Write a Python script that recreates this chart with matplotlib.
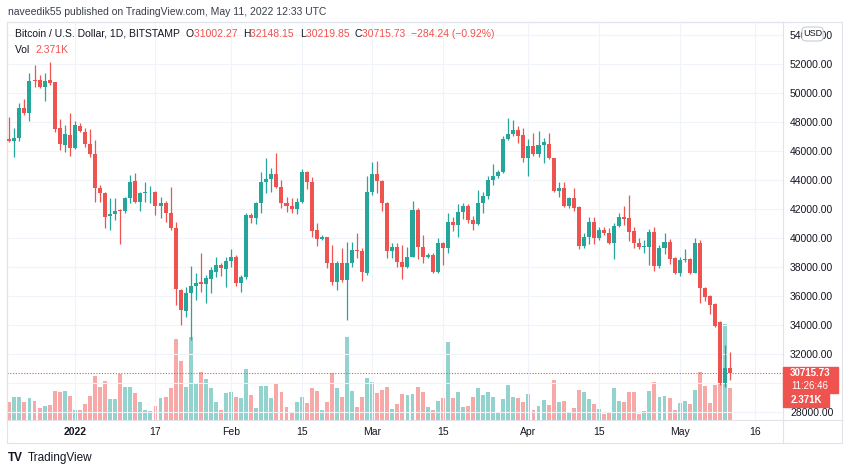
import numpy as np
import pandas as pd
import matplotlib
matplotlib.use("Agg")
import matplotlib.pyplot as plt
import matplotlib.dates as mdates
from matplotlib.patches import Rectangle, FancyBboxPatch
from matplotlib.lines import Line2D

plt.rcParams['font.family'] = ['Liberation Sans', 'DejaVu Sans']

# daily BTC/USD candles, 2021-12-19 .. 2022-05-11
start = "2021-12-19"
opens = [
    46850, 46680, 46900, 48950, 48640, 50900, 50900, 50400, 50900, 50740, 47600, 46410, 47100,
    46210, 47720, 47330, 46460, 45790, 43430, 43090, 41500, 41650, 41900, 41830, 42760, 43950, 42500, 43090, 43080,
    43140, 42220, 42440, 41700, 40670, 36410, 34990, 36230, 36690, 36990, 36830, 37180, 37680, 38140, 37840,
    38440, 38710, 36870, 37290, 41590, 41360, 42410, 43880, 44050, 44410, 43540, 42410, 42210, 42000,
    42500, 44570, 43880, 40550, 39900, 40070, 38280, 36970, 38280, 37130, 38280, 39200, 39110, 37600,
    43150, 44410, 43950, 42430, 39110, 39390, 38360, 37980, 38710, 41930, 39400, 38710, 38800, 37670,
    39630, 39290, 41130, 40900, 41770, 42230, 41220, 40980, 42400, 42900, 44000, 44280, 44530, 46830,
    47170, 47430, 47100,
    45520, 46340, 45790, 46410, 46500, 45520, 43220, 43430, 42210, 42740, 42170, 39450, 40090, 41130,
    39980, 40550, 40370, 39630, 40830, 41470, 41360, 40500, 39680, 39360, 39410, 40440, 38070, 39290,
    39750, 38600,
    37610, 38480, 38530, 37610, 39680, 36530, 36000, 35450, 34230, 30020, 31002.27,
]
highs = [
    48370, 47560, 49330, 49590, 51360, 51930, 51240, 51360, 52160, 50740, 48200, 47790, 48600,
    48100, 47950, 47560, 47520, 46760, 43660, 43150, 42760, 42760, 42000, 42850, 44340, 44460, 43200, 43850, 43570,
    43210, 42850, 42580, 43540, 41130, 36500, 36600, 38070, 37560, 38940, 37450, 37980, 38710, 38250, 38710,
    39220, 38800, 37450, 41700, 41720, 42500, 44570, 45500, 44800, 45840, 43980, 42810, 42740, 42740,
    44740, 44600, 44230, 41010, 40210, 40100, 39520, 38410, 39290, 39750, 39750, 40320, 39290, 44280,
    45260, 45330, 44000, 42500, 39630, 39630, 39520, 39400, 42570, 42050, 40210, 38990, 38940, 39980,
    39750, 41700, 41470, 42340, 42390, 42340, 41520, 43310, 43190, 44280, 45100, 44690, 47030, 48260,
    48140, 47720, 47560,
    46800, 47220, 47400, 46870, 47220, 45550, 43880, 43880, 42850, 43430, 42200, 40370, 41470, 41470,
    40780, 40740, 40670, 41010, 41750, 42210, 42970, 40740, 39980, 39860, 40600, 40740, 39520, 40370,
    39910, 38670,
    38670, 39220, 38600, 39980, 39860, 36600, 36070, 35540, 34300, 32620, 32148.15,
]
lows = [
    46620, 45600, 46690, 48480, 48090, 50440, 50320, 49470, 50550, 47330, 46070, 45950, 45680,
    46170, 47330, 46300, 45610, 42500, 42500, 40670, 40550, 41240, 39590, 41700, 42410, 42400, 41830, 42450, 42410,
    41590, 41360, 41130, 40550, 35380, 34000, 34570, 32950, 35720, 36300, 35490, 36190, 37330, 37380, 36640,
    38020, 36690, 36300, 37200, 41010, 41000, 41750, 43080, 43190, 43430, 42050, 41770, 41720, 41660,
    42380, 43360, 40090, 39450, 39860, 37900, 36760, 36410, 36970, 34340, 37980, 38600, 37030, 37450,
    42970, 43080, 41880, 38600, 38600, 38020, 37150, 37910, 38670, 38530, 38250, 38600, 37560, 37560,
    38140, 38940, 40500, 40090, 41310, 41010, 40550, 40900, 41720, 42670, 43660, 44110, 44460, 46760,
    47030, 46580, 45260,
    44280, 45660, 45560, 45150, 45450, 43150, 42810, 42170, 42050, 41880, 39220, 39290, 39590, 39590,
    39860, 40210, 39590, 38530, 40740, 40900, 39810, 39290, 39220, 38990, 38140, 37740, 37900, 38900,
    38210, 37520,
    37380, 38370, 37520, 37560, 35540, 35680, 34760, 33880, 29860, 29700, 30219.85,
]
closes = [
    46680, 46900, 48950, 48600, 50830, 50830, 50400, 50800, 50700, 47520, 46450, 47140, 46210,
    47800, 47380, 46460, 45790, 43430, 43090, 41480, 41650, 41880, 41830, 42760, 43880, 42500, 43090, 43110, 43100,
    42220, 42390, 41710, 40670, 36460, 35030, 36230, 36690, 36920, 36830, 37240, 37770, 38140, 37910, 38440,
    38710, 36870, 37290, 41590, 41360, 42440, 43880, 44050, 44410, 43540, 42410, 42210, 42000, 42500,
    44570, 43880, 40500, 39910, 40050, 38280, 36970, 38280, 37130, 38280, 39200, 39110, 37660, 43150,
    44410, 43950, 42430, 39110, 39390, 38360, 37980, 38710, 41930, 39400, 38710, 38800, 37670, 39630,
    39290, 41130, 40900, 41770, 42230, 41220, 40980, 42400, 42900, 44000, 44280, 44530, 46830, 47170,
    47430, 47030, 45520,
    46340, 45790, 46410, 46640, 45520, 43220, 43430, 42210, 42740, 42050, 39450, 40090, 41130, 39980,
    40550, 40370, 39630, 40830, 41470, 41330, 40440, 39680, 39360, 39450, 40440, 38070, 39290, 39750,
    38530, 37610,
    38480, 38530, 37610, 39680, 36530, 35950, 35380, 33930, 30020, 30999.97, 30715.73,
]
# volume in thousands of BTC
volumes_k = [
    1.33, 1.75, 1.70, 1.33, 1.68, 1.43, 0.88, 1.05, 1.13, 2.20, 2.08, 2.15, 1.80,
    0.75, 0.75, 1.20, 1.80, 3.33, 2.45, 2.95, 1.58, 1.58, 3.45, 2.45, 2.45, 2.00, 1.38, 0.75, 0.68,
    1.05, 1.63, 1.70, 2.38, 6.05, 4.43, 2.50, 6.20, 2.75, 3.58, 3.08, 2.38, 1.33, 0.75, 2.00,
    2.08, 1.70, 1.63, 3.83, 1.88, 0.88, 2.58, 2.58, 1.63, 2.68, 2.13, 0.95, 0.55, 1.33,
    1.75, 1.25, 2.38, 2.20, 0.75, 1.33, 3.50, 2.38, 1.75, 6.20, 2.18, 0.95, 1.70, 3.13,
    2.83, 2.00, 2.25, 2.45, 0.80, 1.20, 1.95, 1.88, 1.95, 2.50, 2.08, 1.00, 0.75, 1.43,
    1.63, 5.83, 1.63, 2.13, 1.00, 1.05, 1.75, 2.38, 1.88, 2.13, 1.75, 0.58, 1.58, 2.63,
    1.70, 1.63, 1.38,
    1.93, 0.75, 1.05, 1.50, 1.13, 3.00, 1.38, 1.43, 0.55, 0.88, 2.25, 2.08, 1.55, 1.18,
    0.80, 0.45, 0.50, 2.38, 1.43, 1.38, 2.13, 2.13, 0.43, 0.68, 2.18, 2.88, 1.75, 1.80,
    1.63, 0.75,
    1.25, 1.43, 1.18, 2.25, 3.63, 2.55, 1.25, 2.63, 7.00, 7.22, 2.371,
]

price_ticks = list(range(28000, 54001, 2000))
date_ticks = ["2022-01-01", "2022-01-17", "2022-02-01", "2022-02-15", "2022-03-01",
              "2022-03-15", "2022-04-01", "2022-04-15", "2022-05-01", "2022-05-16"]
date_labels = ["2022", "17", "Feb", "15", "Mar", "15", "Apr", "15", "May", "16"]

UP = '#26a69a'
DOWN = '#ef5350'
UP_VOL = '#92d3cd'
DOWN_VOL = '#f7a9a8'
TEXT = '#131722'
LINE = '#e0e3eb'
GRID = '#f0f3fa'

W, H = 850, 473


def fx(px):
    return px / W


def fy(py):
    return 1 - py / H


o = np.array(opens)
h = np.array(highs)
l = np.array(lows)
c = np.array(closes)
v = np.array(volumes_k)
x = mdates.date2num(pd.date_range(start, periods=len(o)))
up = c >= o

fig = plt.figure(figsize=(W / 100, H / 100), dpi=100)
ax = fig.add_axes([fx(7), fy(420), fx(783) - fx(7), fy(22) - fy(420)])
ax2 = ax.twinx()

# volume pane behind the candles
ax2.bar(x, v, width=0.78, color=np.where(up, UP_VOL, DOWN_VOL), linewidth=0)
ax2.set_ylim(0, 29.85)
ax2.set_yticks([])
for s in ax2.spines.values():
    s.set_visible(False)
ax.set_zorder(ax2.get_zorder() + 1)
ax.patch.set_visible(False)

# candles
cols = np.where(up, UP, DOWN)
ax.vlines(x, l, h, colors=cols, linewidth=0.9, zorder=3)
ax.bar(x, np.maximum(np.abs(c - o), 50), bottom=np.minimum(o, c), width=0.8,
       color=cols, linewidth=0, zorder=4)
ax.axhline(c[-1], color=DOWN, linewidth=0.8, linestyle=(0, (1, 1.5)), zorder=2)

ax.set_xlim(x[0] - 0.46, x[0] - 0.46 + 153.97)
ax.set_ylim(27448, 54897)

# the scale label hidden under the last-price box is left blank
y_last = H - ax.transData.transform((x[-1], c[-1]))[1]


def tick_text(t):
    ty = H - ax.transData.transform((x[-1], t))[1]
    if y_last - 8 < ty < y_last + 34:
        return ""
    return f"{t:.2f}"


ax.yaxis.tick_right()
ax.set_yticks(price_ticks)
ax.set_yticklabels([tick_text(t) for t in price_ticks])
ax.set_xticks(mdates.date2num(pd.to_datetime(date_ticks)))
ax.set_xticklabels(date_labels)
ax.get_xticklabels()[0].set_fontweight('bold')
ax.tick_params(axis='y', length=0, pad=5, labelsize=7.5, labelcolor=TEXT)
ax.tick_params(axis='x', length=0, pad=5, labelsize=7.5, labelcolor=TEXT)
ax.grid(True, color=GRID, linewidth=0.8)
ax.set_axisbelow(True)
for s in ax.spines.values():
    s.set_color(LINE)
    s.set_linewidth(0.8)

# outer frame of time and price scales
fig.add_artist(Rectangle((fx(7), fy(443)), fx(842) - fx(7), fy(22) - fy(443),
                         transform=fig.transFigure, fill=False, ec=LINE, lw=0.8))
fig.add_artist(Line2D([fx(783), fx(783)], [fy(420), fy(443)], transform=fig.transFigure, color=LINE, lw=0.8))
fig.add_artist(Line2D([fx(783), fx(842)], [fy(420), fy(420)], transform=fig.transFigure, color=LINE, lw=0.8))

# last price label on the price scale
fig.add_artist(Rectangle((fx(783), fy(y_last + 20)), fx(838) - fx(783), fy(y_last - 6) - fy(y_last + 20),
                         transform=fig.transFigure, color=DOWN, zorder=5))
fig.text(fx(810), fy(y_last + 0.5), f"{c[-1]:.2f}", color='white', fontsize=7, fontweight='bold',
         ha='center', va='center', zorder=6)
fig.text(fx(810), fy(y_last + 13.5), "11:26:46", color='white', fontsize=7,
         ha='center', va='center', zorder=6)
fig.add_artist(Rectangle((fx(783), fy(y_last + 34)), fx(829) - fx(783), fy(y_last + 20) - fy(y_last + 34),
                         transform=fig.transFigure, color=DOWN, zorder=5))
fig.text(fx(806), fy(y_last + 27.5), f"{v[-1]:.3f}K", color='white', fontsize=7, fontweight='bold',
         ha='center', va='center', zorder=6)

# currency badge
fig.add_artist(FancyBboxPatch((fx(802), fy(41)), fx(823) - fx(802), fy(27) - fy(41),
                              boxstyle="round,pad=0,rounding_size=0.006", transform=fig.transFigure,
                              fc='white', ec='#c9ccd6', lw=0.8, zorder=5))
fig.text(fx(812.5), fy(34), "USD", color=TEXT, fontsize=6.5, ha='center', va='center', zorder=6)

# header
fig.text(fx(8), fy(12), "naveedik55 published on TradingView.com, May 11, 2022 12:33 UTC",
         color='#3a3e4a', fontsize=7.5, va='center')

renderer = fig.canvas.get_renderer()


def chain(parts, x0, y0):
    xpos = x0
    for txt, col in parts:
        t = fig.text(fx(xpos), fy(y0), txt, color=col, fontsize=7.5, va='center')
        xpos += t.get_window_extent(renderer).width


chg = c[-1] - c[-2]
pct = chg / c[-2] * 100
chain([("Bitcoin / U.S. Dollar, 1D, BITSTAMP  ", TEXT),
       ("O", TEXT), (f"{o[-1]:.2f}  ", DOWN),
       ("H", TEXT), (f"{h[-1]:.2f}  ", DOWN),
       ("L", TEXT), (f"{l[-1]:.2f}  ", DOWN),
       ("C", TEXT), (f"{c[-1]:.2f}  ", DOWN),
       (f"\u2212{abs(chg):.2f} (\u2212{abs(pct):.2f}%)", DOWN)], 15, 34)
chain([("Vol  ", TEXT), (f"{v[-1]:.3f}K", DOWN)], 15, 50)

# footer logo
fig.text(fx(8), fy(458), "TV", color=TEXT, fontsize=8.5, fontweight='heavy', va='center')
fig.text(fx(28), fy(458), "TradingView", color=TEXT, fontsize=8.5, va='center')

fig.savefig("out.png", dpi=100)
